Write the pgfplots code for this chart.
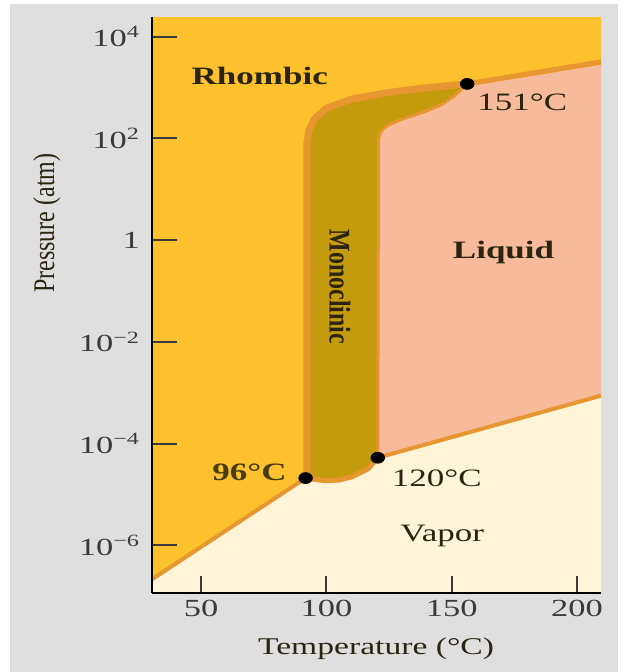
\documentclass[border=0pt]{standalone}
\usepackage{fontspec}
\setmainfont{Liberation Serif}
\newfontfamily\wide[FakeStretch=1.4]{Liberation Serif}
\newfontfamily\narrow[FakeStretch=0.8]{Liberation Serif}
\usepackage{pgfplots}
\pgfplotsset{compat=1.18}
\definecolor{rhom}{HTML}{FCC12D}
\definecolor{mono}{HTML}{C49B0C}
\definecolor{band}{HTML}{E8962F}
\definecolor{liq}{HTML}{F7BB9B}
\definecolor{vap}{HTML}{FEF5D9}
\definecolor{bggray}{HTML}{DFDFDF}
\definecolor{darktxt}{HTML}{2B2410}
\definecolor{ticktxt}{HTML}{3A3A3A}
\begin{document}
\begin{tikzpicture}
\fill[white] (0pt,0pt) rectangle (313pt,336pt);
\fill[bggray] (5pt,0pt) rectangle (309pt,334pt);
\begin{axis}[
  at={(76pt,39.5pt)}, anchor=south west, scale only axis,
  width=224.5pt, height=288pt,
  xmin=30.4, xmax=209.6,
  ymode=log, ymin=1.15e-7, ymax=2.43e4,
  axis lines*=left,
  axis line style={line width=1.3pt, black},
  tick align=inside,
  xtick={50,100,150,200}, xticklabels={50,100,150,200},
  ytick={1e-6,1e-4,1e-2,1,1e2,1e4},
  yticklabels={10\textsuperscript{−6},10\textsuperscript{−4},10\textsuperscript{−2},1,10\textsuperscript{2},10\textsuperscript{4}},
  yminorticks=false, xminorticks=false,
  major tick length=12.5pt,
  xtick style={/pgfplots/major tick length=8.5pt},
  every tick/.style={line width=1pt, ticktxt},
  ticklabel style={font=\wide\fontsize{12.3}{14}\selectfont, text=ticktxt},
  yticklabel style={xshift=-2.5pt},
  xlabel={Temperature (°C)},
  xlabel style={at={(axis description cs:0.499,-0.097)}, anchor=center, font=\wide\fontsize{12}{14}\selectfont, text=darktxt},
  ylabel={Pressure (atm)},
  ylabel style={at={(axis description cs:-0.234,0.642)}, anchor=center, font=\narrow\fontsize{15}{17}\selectfont, text=darktxt},
  axis on top,
  clip=true,
]
% Rhombic (whole area)
\addplot[draw=none, fill=rhom] coordinates {(30.4,1.15e-7) (209.6,1.15e-7) (209.6,2.43e4) (30.4,2.43e4)} -- cycle;
% Vapor
\addplot[draw=none, fill=vap] coordinates {
 (30.4,2.14e-7) (91.7,2.09e-5) (99.2,1.86e-5) (105,1.91e-5) (109.9,2.19e-5) (116.6,3.16e-5) (120.5,5.25e-5)
 (209.6,8.71e-4) (209.6,1.15e-7) (30.4,1.15e-7)} -- cycle;
% Liquid
\addplot[draw=none, fill=liq] coordinates {
 (120.5,5.25e-5) (120.8,90) (121.4,125) (122.8,155) (125,185) (128.5,222) (134,275) (140,345) (146,460) (151,680) (156.2,1175)
 (209.6,3162) (209.6,8.71e-4)} -- cycle;
% Monoclinic
\addplot[draw=none, fill=mono] coordinates {
 (91.7,2.09e-5) (91.7,79.4) (92.5,141) (94.5,240) (99.5,398) (110,603) (125,813) (140,1000) (156.2,1175)
 (151,680) (146,460) (140,345) (134,275) (128.5,222) (125,185) (122.8,155) (121.4,125) (120.8,90) (120.5,5.25e-5)
 (116.6,3.16e-5) (109.9,2.19e-5) (105,1.91e-5) (99.2,1.86e-5)} -- cycle;
% Boundaries
\addplot[band, line width=2pt] coordinates {(30.4,2.14e-7) (91.7,2.09e-5)};
\addplot[band, line width=2pt] coordinates {(120.5,5.25e-5) (209.6,8.71e-4)};
\addplot[band, line width=2.6pt] coordinates {(156.2,1175) (209.6,3162)};
\addplot[band, line width=3.5pt, line join=round] coordinates {
 (92.2,2.09e-5) (92.2,79.4) (93.0,141) (95.0,235) (100,390) (110,590) (125,800) (140,990) (156.2,1175)};
\addplot[band, line width=1.5pt, line join=round] coordinates {
 (120.5,5.25e-5) (120.8,90) (121.4,125) (122.8,155) (125,185) (128.5,222) (134,275) (140,345) (146,460) (151,680) (156.2,1175)};
\addplot[band, line width=2.5pt, line join=round] coordinates {
 (91.7,2.09e-5) (99.2,1.86e-5) (105,1.91e-5) (109.9,2.19e-5) (116.6,3.16e-5) (120.5,5.25e-5)};
% Triple points
\addplot[only marks, mark=*, mark size=3.4pt, mark options={black, fill=black, yscale=0.8}] coordinates {
 (91.7,2.09e-5) (120.5,5.25e-5) (156.2,1175)};
% Region and point labels
\node[font=\wide\bfseries\fontsize{12.5}{14}\selectfont, text=darktxt] at (axis cs:73.4,1700) {Rhombic};
\node[font=\wide\fontsize{12.5}{14}\selectfont, text=darktxt] at (axis cs:178.2,500) {151°C};
\node[font=\wide\bfseries\fontsize{12.5}{14}\selectfont, text=darktxt] at (axis cs:170.7,0.56) {Liquid};
\node[font=\narrow\bfseries\fontsize{15}{17}\selectfont, text=darktxt, rotate=-90] at (axis cs:105.4,0.12) {Monoclinic};
\node[font=\wide\bfseries\fontsize{12.5}{14}\selectfont, text=darktxt!85!rhom] at (axis cs:69.3,2.75e-5) {96°C};
\node[font=\wide\fontsize{12.5}{14}\selectfont, text=darktxt] at (axis cs:144.1,2.04e-5) {120°C};
\node[font=\wide\fontsize{12.5}{14}\selectfont, text=darktxt] at (axis cs:146.2,1.55e-6) {Vapor};
\end{axis}
\end{tikzpicture}
\end{document}
